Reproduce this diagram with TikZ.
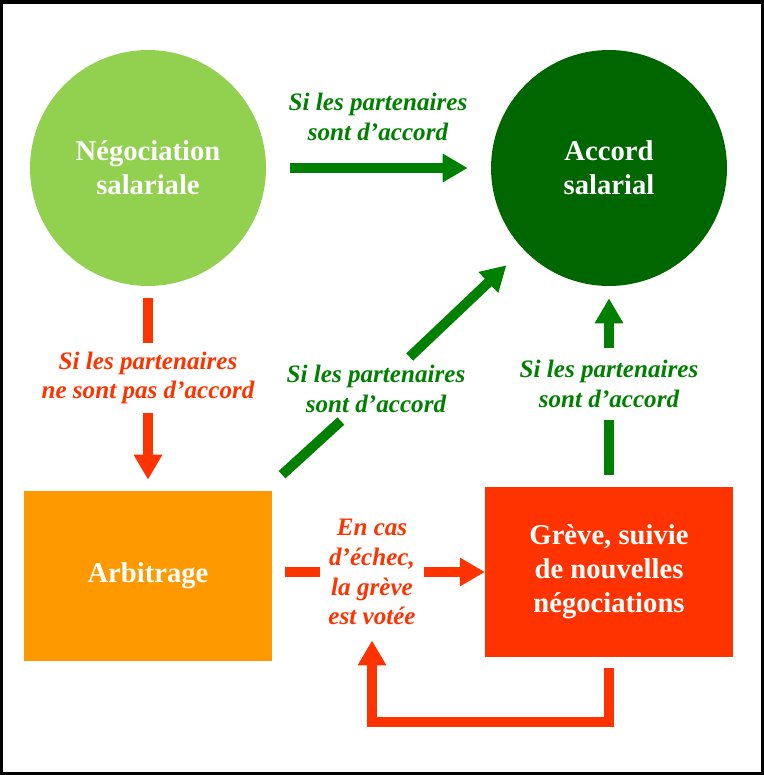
\documentclass[tikz,border=0pt]{standalone}
\usepackage{fontspec}
\setmainfont{Liberation Serif}
\usetikzlibrary{arrows.meta}

\definecolor{vertclair}{HTML}{92D050}
\definecolor{vertfonce}{HTML}{006600}
\definecolor{vert}{HTML}{008000}
\definecolor{orangeboite}{HTML}{FF9900}
\definecolor{rouge}{HTML}{FF3300}

\begin{document}
\begin{tikzpicture}[x=0.02cm, y=-0.02cm,
    etat/.style={circle, minimum size=4.72cm, inner sep=0pt, text=white, align=center,
        font=\fontsize{16.3}{19.3}\selectfont\bfseries},
    boite/.style={rectangle, minimum width=4.95cm, minimum height=3.4cm, inner sep=0pt,
        text=white, align=center, font=\fontsize{16.3}{19.3}\selectfont\bfseries},
    lbl/.style={inner sep=4.5pt, align=center, font=\fontsize{14.3}{17}\selectfont\bfseries\itshape},
    trait/.style={line width=0.2cm},
    fleche/.style={line width=0.2cm, -{Triangle[width=0.54cm, length=0.5cm]}}]

    \useasboundingbox (0,0) rectangle (764,775);
    \draw[line width=0.07cm] (1.75,1.75) rectangle (762.25,773.25);

    % Les quatre situations
    \node[etat, fill=vertclair] (neg) at (148,168) {Négociation\\salariale};
    \node[etat, fill=vertfonce] (acc) at (609,168) {Accord\\salarial};
    \node[boite, fill=orangeboite] (arb) at (148,576) {Arbitrage};
    \node[boite, fill=rouge] (gre) at (609,572) {Grève, suivie\\de nouvelles\\négociations};

    % Conditions
    \node[lbl, text=vert] (lh) at (378,117) {Si les partenaires\\sont d’accord};
    \node[lbl, text=rouge] (lg) at (148,378) {Si les partenaires\\ne sont pas d’accord};
    \node[lbl, text=vert] (ld) at (376,389) {Si les partenaires\\sont d’accord};
    \node[lbl, text=vert, inner ysep=7pt] (ldr) at (609,384) {Si les partenaires\\sont d’accord};
    \node[lbl, text=rouge] (lb) at (372,572) {En cas\\d’échec,\\la grève\\est votée};

    % Accord direct
    \draw[fleche, vert, shorten <=0.48cm, shorten >=0.46cm] (neg) -- (acc);

    % Pas d'accord : arbitrage
    \draw[trait, rouge, shorten <=0.24cm] (neg) -- (lg);
    \draw[fleche, rouge, shorten >=0.22cm] (lg) -- (arb);

    % Accord apres arbitrage
    \draw[trait, vert] ([shift={(10,-16)}]arb.north east) -- (ld);
    \draw[fleche, vert, shorten >=0.46cm] (ld) -- (acc);

    % Echec : greve
    \draw[trait, rouge, shorten <=0.26cm] (lb -| arb.east) -- (lb);
    \draw[fleche, rouge] (lb) -- (gre);

    % Accord apres la greve
    \draw[trait, vert, shorten <=0.24cm] (gre) -- (ldr);
    \draw[fleche, vert, shorten >=0.24cm] (ldr) -- (acc);

    % Retour en cas de nouvel echec
    \draw[fleche, rouge, shorten <=0.22cm, shorten >=0.14cm] (gre) -- ++(0,150) -| (lb);

\end{tikzpicture}
\end{document}
